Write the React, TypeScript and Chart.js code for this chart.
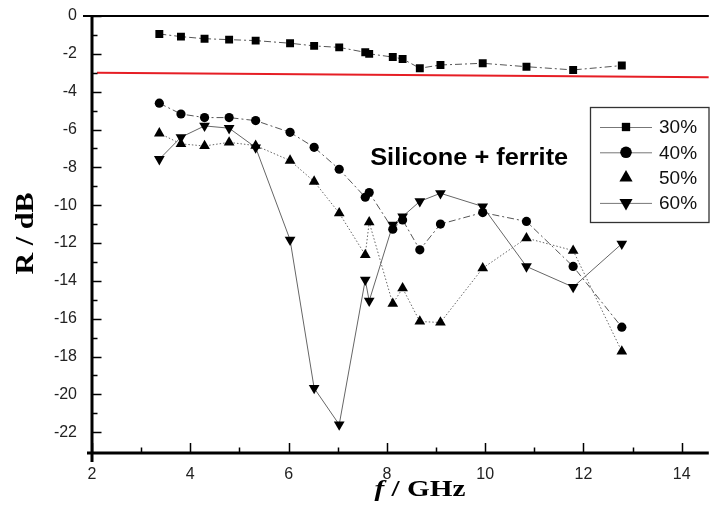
import React, { useEffect, useRef } from 'react';
import { Chart, registerables } from 'chart.js';

Chart.register(...registerables);

// ---------- data ----------
const freqGHz = [3.37, 3.81, 4.29, 4.79, 5.33, 6.03, 6.52, 7.03, 7.56, 7.64, 8.12, 8.32, 8.67, 9.09, 9.95, 10.84, 11.79, 12.78];
const r30 = [-0.95, -1.09, -1.2, -1.25, -1.3, -1.44, -1.58, -1.66, -1.92, -2.0, -2.17, -2.27, -2.76, -2.59, -2.5, -2.68, -2.85, -2.62];
const r40 = [-4.61, -5.18, -5.37, -5.37, -5.53, -6.15, -6.94, -8.1, -9.58, -9.33, -11.27, -10.78, -12.36, -11.0, -10.39, -10.86, -13.24, -16.45];
const r50 = [-6.2, -6.76, -6.87, -6.68, -6.85, -7.64, -8.75, -10.42, -12.63, -10.9, -15.21, -14.39, -16.15, -16.2, -13.33, -11.74, -12.4, -17.73];
const r60 = [-7.57, -6.41, -5.81, -5.93, -6.95, -11.83, -19.67, -21.6, -13.95, -15.06, -11.04, -10.6, -9.8, -9.37, -10.07, -13.24, -14.33, -12.04];
const seriesLabels = ['30%', '40%', '50%', '60%'];
const refLineX = [2.1, 14.55];
const refLineY = [-3.0, -3.24];
const xTickValues = [2, 3, 4, 5, 6, 7, 8, 9, 10, 11, 12, 13, 14];
const yTickValues = [0, -1, -2, -3, -4, -5, -6, -7, -8, -9, -10, -11, -12, -13, -14, -15, -16, -17, -18, -19, -20, -21, -22];
const annotationText = 'Silicone + ferrite';
const annotationPos = { x: 7.66, y: -7.87 };
const xTitleItalic = 'f';
const xTitleRest = ' / GHz';
const yTitle = 'R / dB';

const SANS = '"Liberation Sans", Arial, sans-serif';
const SERIF = '"Liberation Serif", "Times New Roman", serif';

const pts = (ys: number[]) => freqGHz.map((f, i) => ({ x: f, y: ys[i] }));

type Sty = { style: string; rot: number; r: number; lr: number; line: boolean };
const markerStyles: Sty[] = [
  { style: 'rect', rot: 0, r: 5.6, lr: 5.9, line: true },
  { style: 'circle', rot: 0, r: 4.6, lr: 5.8, line: true },
  { style: 'triangle', rot: 0, r: 6.2, lr: 7.6, line: false },
  { style: 'triangle', rot: 180, r: 6.2, lr: 7.6, line: true },
];

function drawMarker(ctx: CanvasRenderingContext2D, s: Sty, x: number, y: number, r: number) {
  ctx.beginPath();
  if (s.style === 'rect') {
    const h = r * Math.SQRT1_2;
    ctx.rect(x - h, y - h, 2 * h, 2 * h);
  } else if (s.style === 'circle') {
    ctx.arc(x, y, r, 0, Math.PI * 2);
  } else {
    let a = (s.rot * Math.PI) / 180;
    ctx.moveTo(x + Math.sin(a) * r, y - Math.cos(a) * r);
    a += (2 * Math.PI) / 3;
    ctx.lineTo(x + Math.sin(a) * r, y - Math.cos(a) * r);
    a += (2 * Math.PI) / 3;
    ctx.lineTo(x + Math.sin(a) * r, y - Math.cos(a) * r);
    ctx.closePath();
  }
  ctx.fill();
}

function fitText(ctx: CanvasRenderingContext2D, draw: (c: CanvasRenderingContext2D) => void, measured: number, target: number) {
  const sx = target / measured;
  ctx.scale(sx, 1);
  draw(ctx);
}

const decorPlugin = {
  id: 'decor',
  afterDraw(chart: any) {
    const { ctx, chartArea: ca, scales } = chart;
    const x = scales.x;
    const y = scales.y;
    ctx.save();
    // inward ticks
    ctx.strokeStyle = '#000';
    ctx.lineWidth = 1.5;
    ctx.beginPath();
    xTickValues.forEach((v) => {
      const px = Math.round(x.getPixelForValue(v)) + 0.5;
      const len = v % 2 === 0 ? 10 : 5.5;
      ctx.moveTo(px, ca.bottom);
      ctx.lineTo(px, ca.bottom - len);
    });
    yTickValues.forEach((v) => {
      const py = Math.round(y.getPixelForValue(v)) + 0.5;
      const len = v % 2 === 0 ? 9.5 : 5.5;
      ctx.moveTo(ca.left, py);
      ctx.lineTo(ca.left + len, py);
    });
    ctx.stroke();
    // axes
    ctx.lineWidth = 3;
    ctx.beginPath();
    ctx.moveTo(ca.left, ca.top);
    ctx.lineTo(ca.left, ca.bottom + 9);
    ctx.moveTo(ca.left - 5, ca.bottom);
    ctx.lineTo(ca.right, ca.bottom);
    ctx.stroke();
    ctx.lineWidth = 2;
    ctx.beginPath();
    ctx.moveTo(ca.left - 9, ca.top);
    ctx.lineTo(ca.right, ca.top);
    ctx.stroke();

    // annotation
    ctx.fillStyle = '#000';
    ctx.font = `bold 24px ${SANS}`;
    ctx.textBaseline = 'alphabetic';
    ctx.textAlign = 'left';
    {
      const ax = x.getPixelForValue(annotationPos.x);
      const ay = y.getPixelForValue(annotationPos.y);
      const w = ctx.measureText(annotationText).width;
      ctx.save();
      ctx.translate(ax, ay);
      fitText(ctx, (c) => c.fillText(annotationText, 0, 0), w, 198);
      ctx.restore();
    }

    // legend
    const bx = 590.5, by = 107.5, bw = 118.5, bh = 115;
    ctx.fillStyle = '#fff';
    ctx.fillRect(bx, by, bw, bh);
    ctx.strokeStyle = '#333';
    ctx.lineWidth = 1.3;
    ctx.strokeRect(bx, by, bw, bh);
    ctx.font = `19px ${SANS}`;
    ctx.textBaseline = 'middle';
    seriesLabels.forEach((lab, i) => {
      const iy = 127 + i * 25.3;
      const s = markerStyles[i];
      if (s.line) {
        ctx.strokeStyle = '#777';
        ctx.lineWidth = 1;
        ctx.beginPath();
        ctx.moveTo(600, iy + 0.5);
        ctx.lineTo(652, iy + 0.5);
        ctx.stroke();
      }
      ctx.fillStyle = '#000';
      drawMarker(ctx, s, 626, iy, s.lr);
      ctx.fillStyle = '#111';
      ctx.fillText(lab, 659, iy + 1);
    });

    // x title
    ctx.fillStyle = '#000';
    ctx.textBaseline = 'alphabetic';
    {
      const fI = `italic bold 24px ${SERIF}`;
      const fB = `bold 24px ${SERIF}`;
      ctx.font = fI;
      const w1 = ctx.measureText(xTitleItalic).width;
      ctx.font = fB;
      const w2 = ctx.measureText(xTitleRest).width;
      const total = w1 + w2;
      const target = 91;
      const sx = target / total;
      ctx.save();
      ctx.translate(420 - target / 2, 496);
      ctx.scale(sx, 1);
      ctx.font = fI;
      ctx.fillText(xTitleItalic, 0, 0);
      ctx.font = fB;
      ctx.fillText(xTitleRest, w1, 0);
      ctx.restore();
    }
    // y title
    {
      ctx.font = `bold 25px ${SERIF}`;
      ctx.textAlign = 'center';
      const w = ctx.measureText(yTitle).width;
      ctx.save();
      ctx.translate(33, (ca.top + ca.bottom) / 2 - 1);
      ctx.rotate(-Math.PI / 2);
      fitText(ctx, (c) => c.fillText(yTitle, 0, 0), w, 82);
      ctx.restore();
    }
    ctx.restore();
  },
};

export default function App() {
  const ref = useRef<HTMLCanvasElement>(null);
  useEffect(() => {
    const canvas = ref.current;
    if (!canvas) return;
    const mk = (label: string, ys: number[], i: number, dash: number[], color: string) => ({
      label,
      data: pts(ys),
      borderColor: color,
      borderWidth: 1,
      borderDash: dash,
      tension: 0,
      pointStyle: markerStyles[i].style,
      pointRotation: markerStyles[i].rot,
      pointRadius: markerStyles[i].r,
      pointBackgroundColor: '#000',
      pointBorderColor: '#000',
      pointBorderWidth: 0,
      fill: false,
    });
    const chart = new Chart(canvas, {
      type: 'line',
      data: {
        datasets: [
          mk(seriesLabels[0], r30, 0, [7, 3, 2, 3], '#555'),
          mk(seriesLabels[1], r40, 1, [7, 3, 2, 3], '#555'),
          mk(seriesLabels[2], r50, 2, [1.5, 2], '#666'),
          mk(seriesLabels[3], r60, 3, [], '#666'),
          {
            label: 'ref',
            data: refLineX.map((v, i) => ({ x: v, y: refLineY[i] })),
            borderColor: '#e61e25',
            borderWidth: 2,
            pointRadius: 0,
            tension: 0,
            fill: false,
          },
        ] as any,
      },
      options: {
        responsive: false,
        animation: false,
        layout: { padding: { top: 16, right: 0, bottom: 0, left: 0 } },
        plugins: { legend: { display: false }, tooltip: { enabled: false }, title: { display: false } },
        scales: {
          x: {
            type: 'linear',
            min: 2,
            max: 14.55,
            afterBuildTicks: (s: any) => {
              s.ticks = xTickValues.map((v) => ({ value: v }));
            },
            afterFit: (s: any) => {
              s.height = 62;
              s.paddingLeft = 0;
              s.paddingRight = 0;
            },
            ticks: {
              autoSkip: false,
              maxRotation: 0,
              padding: 12,
              color: '#222',
              font: { family: SANS, size: 16 },
              callback: (v: any) => (Number(v) % 2 === 0 ? String(v) : ''),
            },
            grid: { display: false, drawTicks: false },
            border: { display: false },
          },
          y: {
            type: 'linear',
            min: -23.1,
            max: 0,
            afterBuildTicks: (s: any) => {
              s.ticks = yTickValues.map((v) => ({ value: v }));
            },
            afterFit: (s: any) => {
              s.width = 92;
              s.paddingTop = 0;
              s.paddingBottom = 0;
            },
            ticks: {
              autoSkip: false,
              padding: 15,
              color: '#222',
              font: { family: SANS, size: 16 },
              callback: (v: any) => (Number(v) % 2 === 0 ? String(v) : ''),
            },
            grid: { display: false, drawTicks: false },
            border: { display: false },
          },
        },
      } as any,
      plugins: [decorPlugin],
    });
    return () => chart.destroy();
  }, []);
  return (
    <div style={{ position: 'fixed', left: 0, top: 0, width: 715, height: 515, background: '#fff' }}>
      <canvas ref={ref} width={715} height={515} style={{ display: 'block', width: 715, height: 515 }} />
    </div>
  );
}
